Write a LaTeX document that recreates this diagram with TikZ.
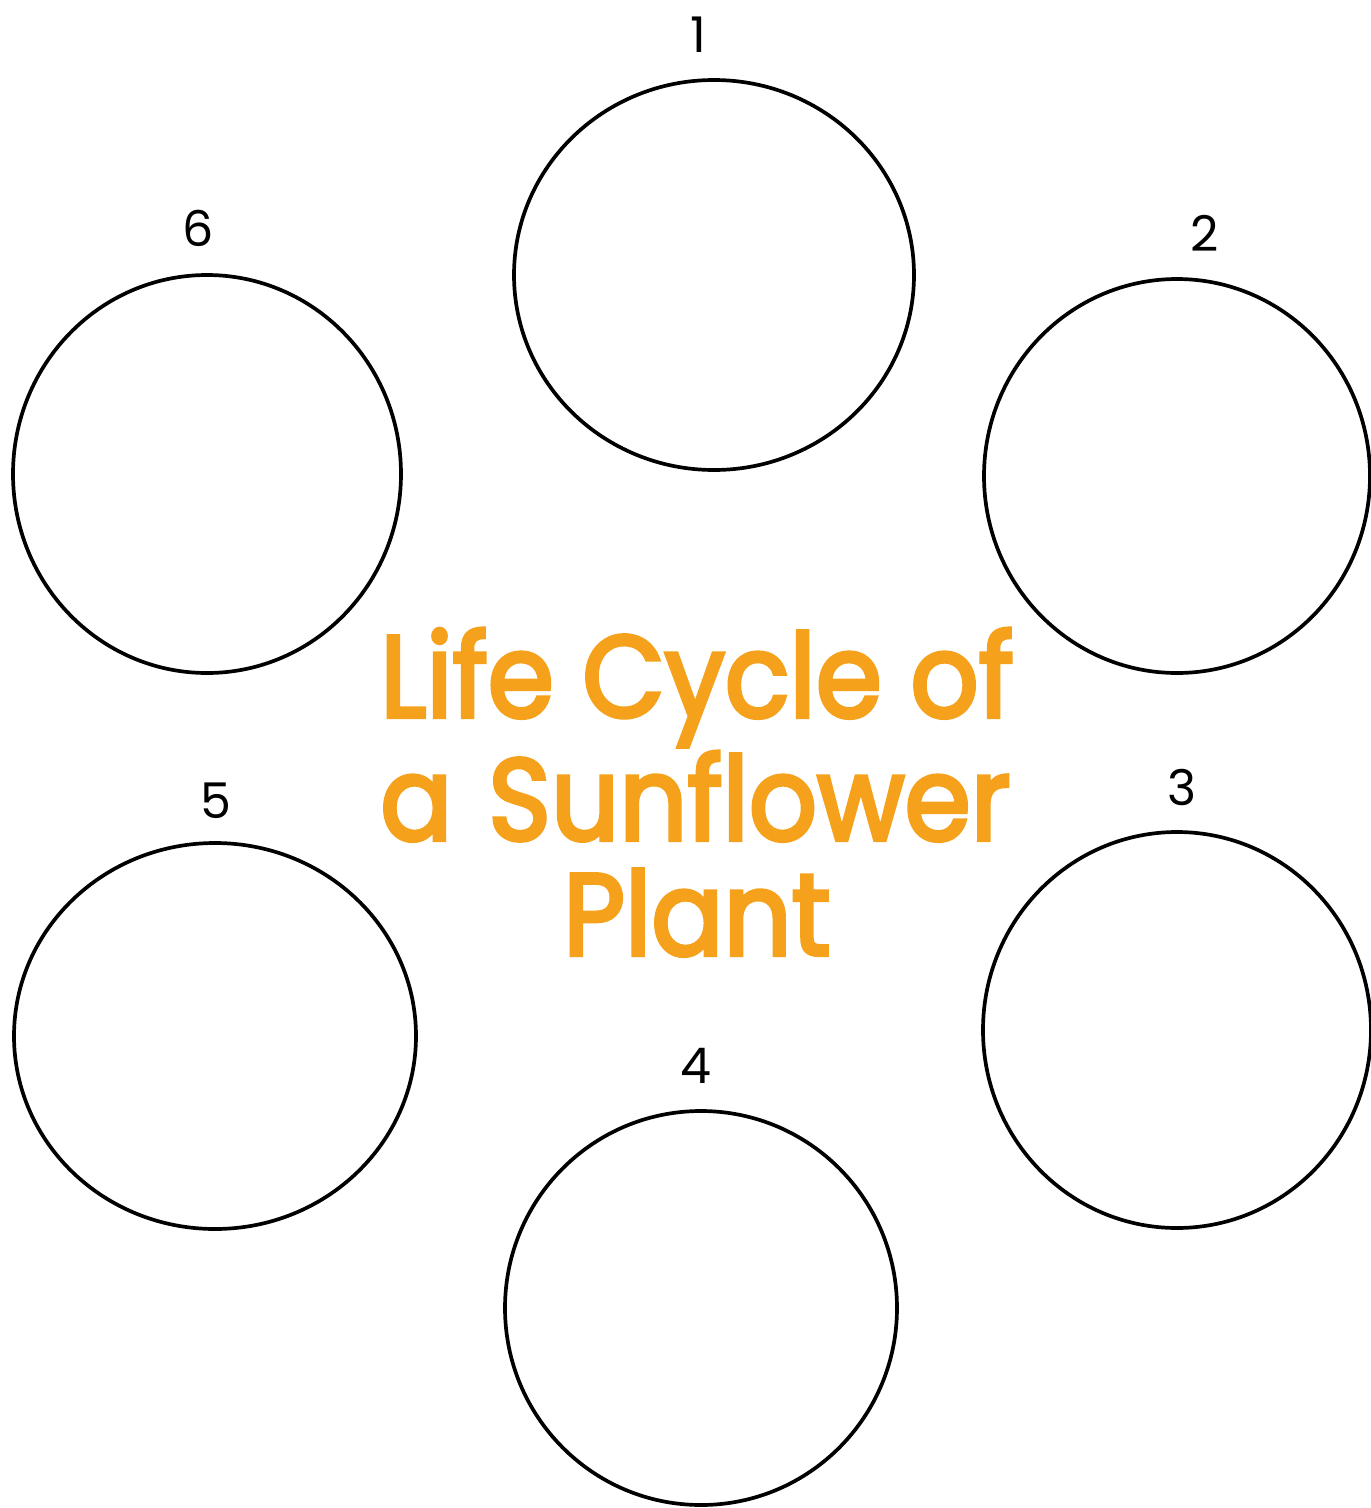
\documentclass[tikz,border=0pt]{standalone}
\usepackage{fontspec}
\setmainfont{Poppins}
\newfontfamily\titlefont[FakeBold=3.5]{Poppins}
\definecolor{sunorange}{HTML}{F5A11C}
\begin{document}
\begin{tikzpicture}[x=0.02cm,y=-0.02cm,
  ring/.style={draw=black,line width=2.1pt},
  numlabel/.style={font=\fontsize{28}{30}\selectfont,text=black,inner sep=0pt},
  titleline/.style={font=\titlefont\fontsize{66}{70}\selectfont,text=sunorange,inner sep=0pt,anchor=base west,xscale=0.92}]
\useasboundingbox (0,0) rectangle (1371,1508);
\draw[ring] (714,275) ellipse [x radius=200, y radius=195];
\draw[ring] (1177,476) ellipse [x radius=193, y radius=197];
\draw[ring] (1177,1030) ellipse [x radius=194, y radius=198];
\draw[ring] (701,1308) ellipse [x radius=196, y radius=197];
\draw[ring] (215,1036) ellipse [x radius=201, y radius=193];
\draw[ring] (207,474) ellipse [x radius=194, y radius=199];
\node[numlabel] (n1) at (698,35) {1};
\node[numlabel] (n2) at (1205,233) {2};
\node[numlabel] (n3) at (1182,787) {3};
\node[numlabel] (n4) at (696,1066) {4};
\node[numlabel] (n5) at (216,801) {5};
\node[numlabel] (n6) at (198,228) {6};
\node[titleline] (t1) at (380,717) {Life Cycle of};
\node[titleline] (t2a) at (380,840) {a};
\node[titleline] (t2b) at (488,840) {Sunflower};
\node[titleline] (t3) at (563,955) {Plant};
\end{tikzpicture}
\end{document}
